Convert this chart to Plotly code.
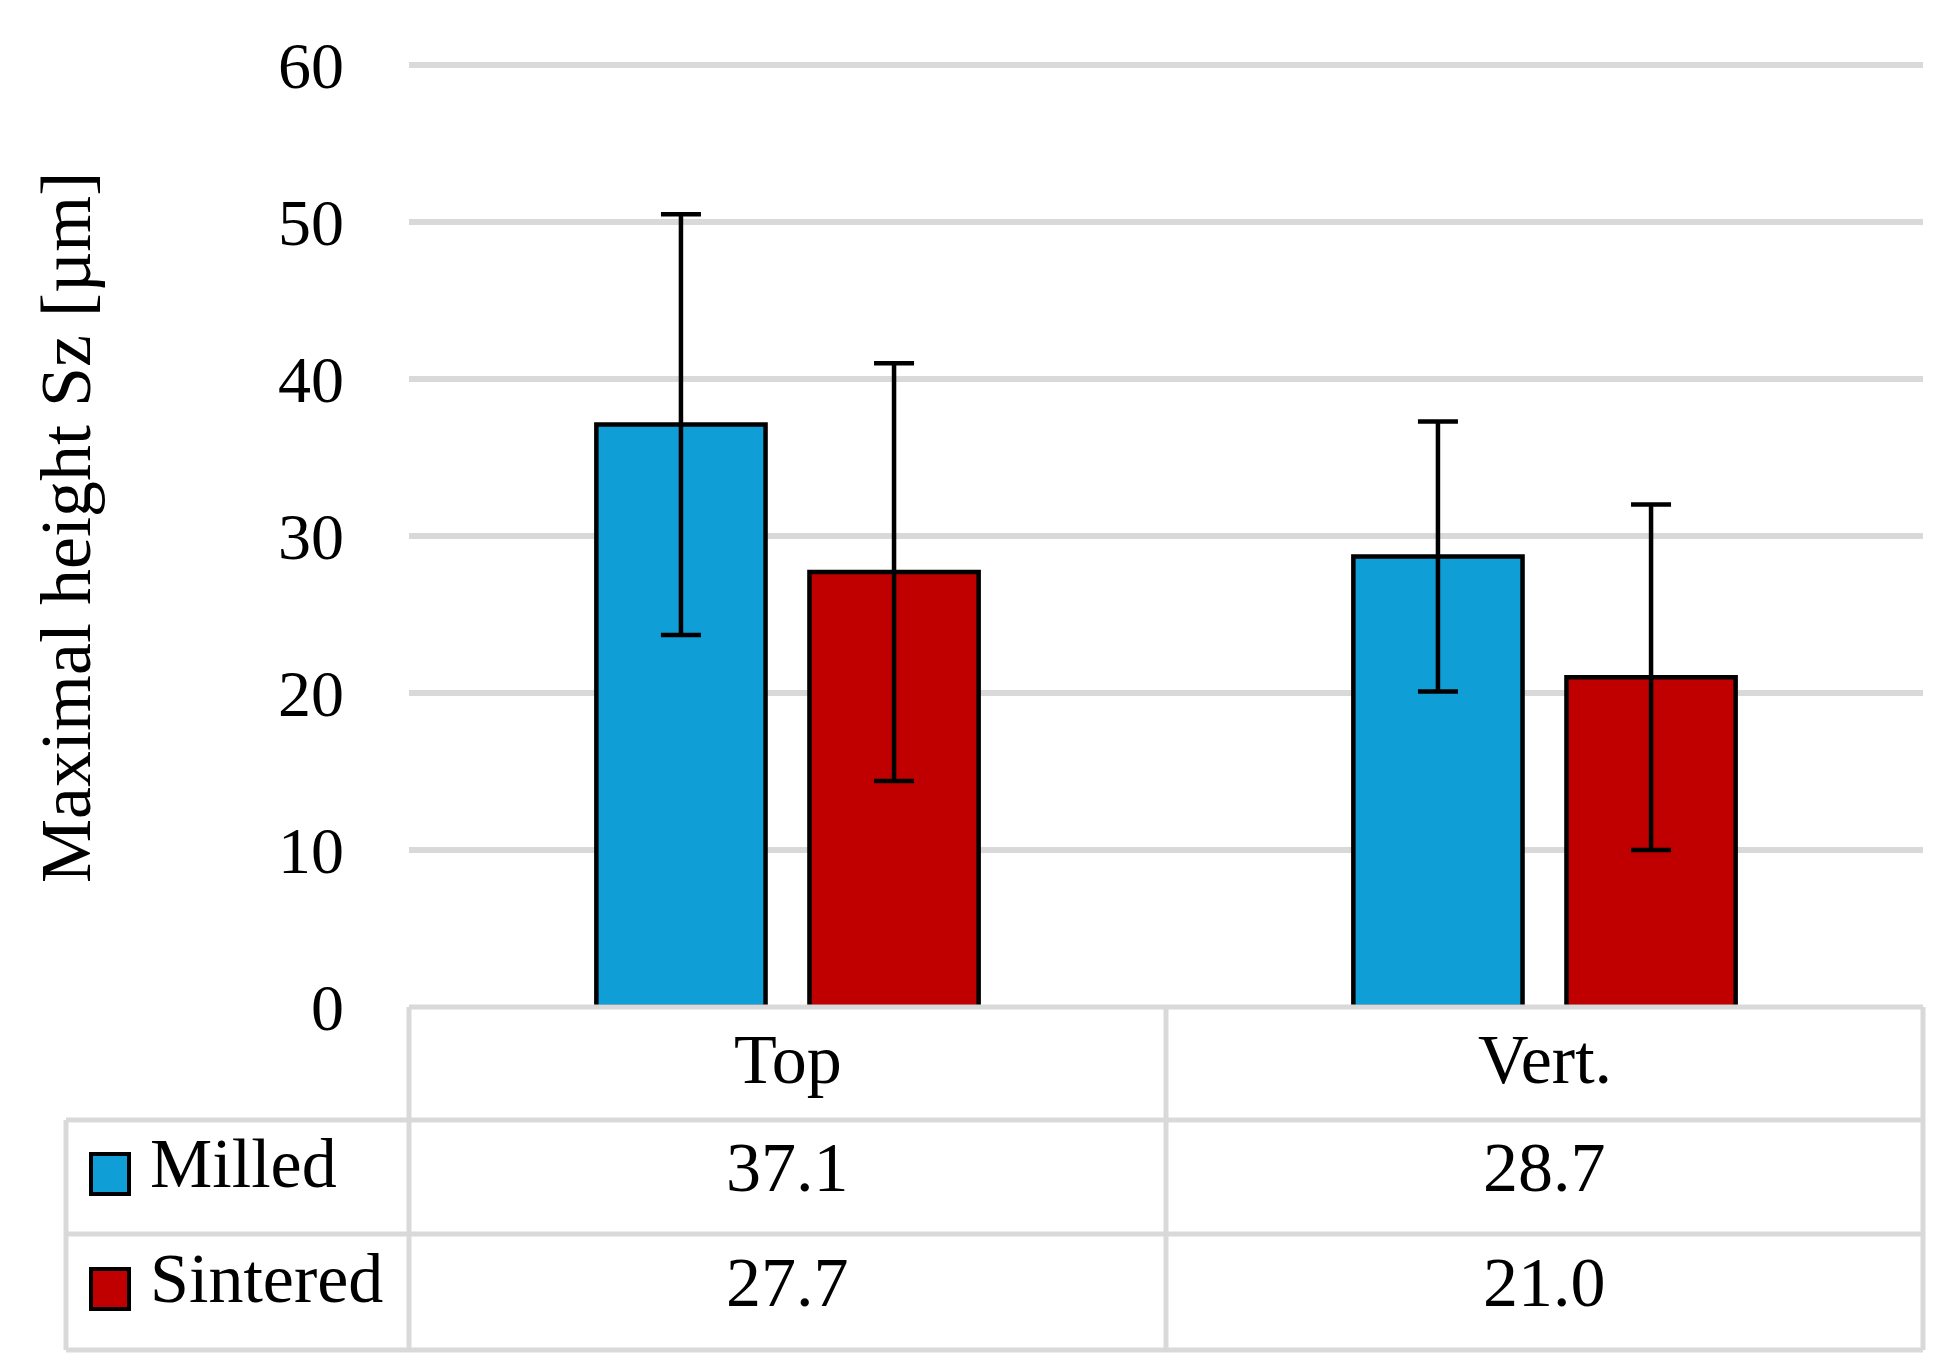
import plotly.graph_objects as go

# ---- data ----
categories = ["Top", "Vert."]
series_names = ["Milled", "Sintered"]
milled = [37.1, 28.7]
sintered = [27.7, 21.0]
milled_err = [13.4, 8.6]
sintered_err = [13.3, 11.0]
y_ticks = [0, 10, 20, 30, 40, 50, 60]
y_title = "Maximal height Sz [µm]"

colors = ["#0F9ED5", "#C00000"]
values = [milled, sintered]
errors = [milled_err, sintered_err]

# ---- layout geometry (page pixels) ----
W, H = 1945, 1363
OFF = 8  # default page body margin
PL, PR, PT, PB = 409, 1923, 65, 1007
FONT = "Liberation Serif"
GRID = "#d9d9d9"


def px(X):
    return (X - PL) / (PR - PL)


def py(Y):
    return (PB - Y) / (PB - PT)


fig = go.Figure()
for name, vals, errs, col in zip(series_names, values, errors, colors):
    fig.add_trace(go.Bar(
        x=categories, y=vals, name=name,
        marker=dict(color=col, line=dict(color="black", width=4.5)),
        error_y=dict(type="data", array=errs, visible=True,
                     color="black", thickness=4.5, width=20),
        showlegend=False,
    ))

shapes = []
line = dict(color=GRID, width=5)
# table row boundaries (pixel Y)
row_y = [PB, 1120, 1234, 1350]
leg_left = 66
col_mid = (PL + PR) / 2
# top gridline (60)
shapes.append(dict(type="line", xref="paper", yref="paper", layer="below",
                   x0=0, x1=1, y0=1, y1=1,
                   line=dict(color=GRID, width=6)))
# horizontals
shapes.append(dict(type="line", xref="paper", yref="paper",
                   x0=px(PL), x1=px(PR), y0=py(row_y[0]), y1=py(row_y[0]), line=line))
for Y in row_y[1:]:
    shapes.append(dict(type="line", xref="paper", yref="paper",
                       x0=px(leg_left), x1=px(PR), y0=py(Y), y1=py(Y), line=line))
# verticals
for X in [PL, col_mid, PR]:
    shapes.append(dict(type="line", xref="paper", yref="paper",
                       x0=px(X), x1=px(X), y0=py(row_y[0]), y1=py(row_y[-1]), line=line))
shapes.append(dict(type="line", xref="paper", yref="paper",
                   x0=px(leg_left), x1=px(leg_left), y0=py(row_y[1]), y1=py(row_y[-1]), line=line))

annotations = []
tfont = dict(family=FONT, size=70, color="black")
# header
hc = (row_y[0] + row_y[1]) / 2
for c in categories:
    annotations.append(dict(x=c, xref="x", y=py(hc - 4), yref="paper", text=c,
                            showarrow=False, font=tfont, xanchor="center", yanchor="middle"))
# rows
for i, (name, vals, col) in enumerate(zip(series_names, values, colors)):
    rc = (row_y[i + 1] + row_y[i + 2]) / 2
    for c, v in zip(categories, vals):
        annotations.append(dict(x=c, xref="x", y=py(rc - 10), yref="paper", text=f"{v:.1f}",
                                showarrow=False, font=tfont, xanchor="center", yanchor="middle"))
    annotations.append(dict(x=px(148), xref="paper", y=py(rc - 14), yref="paper", text=name,
                            showarrow=False, font=tfont, xanchor="left", yanchor="middle"))
    shapes.append(dict(type="rect", xref="paper", yref="paper",
                       x0=px(91), x1=px(129), y0=py(rc - 23), y1=py(rc + 17),
                       fillcolor=col, line=dict(color="black", width=4)))

annotations.append(dict(x=px(66), xref="paper", y=py(528), yref="paper", text=y_title,
                        textangle=-90, showarrow=False,
                        font=dict(family=FONT, size=72, color="black"),
                        xanchor="center", yanchor="middle"))

fig.update_layout(
    width=W - OFF, height=H - OFF,
    margin=dict(l=PL - OFF, r=W - OFF - (PR - OFF), t=PT - OFF, b=H - PB),
    paper_bgcolor="white", plot_bgcolor="white",
    barmode="group", bargap=0.437, bargroupgap=0.206,
    shapes=shapes, annotations=annotations,
    font=dict(family=FONT, color="black"),
)
fig.update_xaxes(showticklabels=False, showgrid=False, showline=False,
                 zeroline=False, range=[-0.5, 1.5])
fig.update_yaxes(range=[0, 60], tickvals=y_ticks, showgrid=True, gridcolor=GRID,
                 gridwidth=6, zeroline=False, showline=False, ticks="",
                 tickfont=dict(family=FONT, size=66, color="black"),
                 ticklabelstandoff=64)

fig.write_html("out.html")
